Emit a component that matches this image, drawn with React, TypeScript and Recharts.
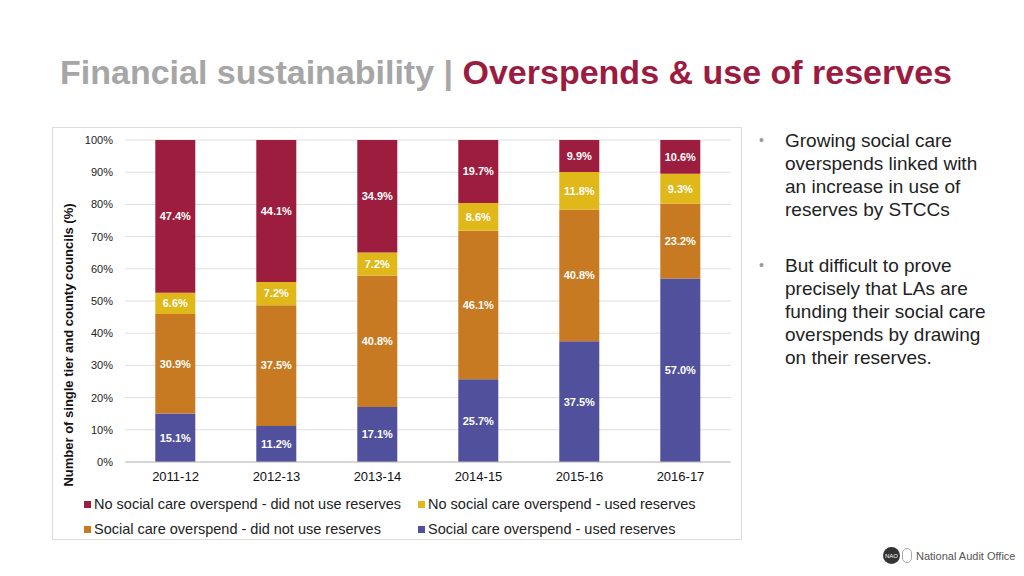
import React from 'react';
import { BarChart, Bar, XAxis, YAxis, CartesianGrid, LabelList } from 'recharts';

const categories = ['2011-12', '2012-13', '2013-14', '2014-15', '2015-16', '2016-17'];
const overspendUsed = [15.1, 11.2, 17.1, 25.7, 37.5, 57.0];
const overspendNotUsed = [30.9, 37.5, 40.8, 46.1, 40.8, 23.2];
const noOverspendUsed = [6.6, 7.2, 7.2, 8.6, 11.8, 9.3];
const noOverspendNotUsed = [47.4, 44.1, 34.9, 19.7, 9.9, 10.6];
const yTicks = [0, 10, 20, 30, 40, 50, 60, 70, 80, 90, 100];

const series = [
  { key: 'overspendUsed', name: 'Social care overspend - used reserves', color: '#50509c' },
  { key: 'overspendNotUsed', name: 'Social care overspend - did not use reserves', color: '#c77a21' },
  { key: 'noOverspendUsed', name: 'No social care overspend - used reserves', color: '#e0b81a' },
  { key: 'noOverspendNotUsed', name: 'No social care overspend - did not use reserves', color: '#9c1d3e' },
];

const legendOrder = [
  ['noOverspendNotUsed', 'noOverspendUsed'],
  ['overspendNotUsed', 'overspendUsed'],
];

const data = categories.map((c, i) => ({
  category: c,
  overspendUsed: overspendUsed[i],
  overspendNotUsed: overspendNotUsed[i],
  noOverspendUsed: noOverspendUsed[i],
  noOverspendNotUsed: noOverspendNotUsed[i],
}));

const FONT = '"Liberation Sans", Arial, Helvetica, sans-serif';

export default function App() {
  return (
    <div style={{ position: 'absolute', left: 0, top: 0, width: 1024, height: 576, background: '#fff', fontFamily: FONT, overflow: 'hidden' }}>
      <div style={{ position: 'absolute', left: 60, top: 51, fontSize: 34, fontWeight: 'bold', whiteSpace: 'nowrap', lineHeight: '42px' }}>
        <span style={{ color: '#a6a6a6' }}>Financial sustainability | </span>
        <span style={{ color: '#9c1c41' }}>Overspends &amp; use of reserves</span>
      </div>
      <div style={{ position: 'absolute', left: 52, top: 127, width: 690, height: 413, border: '1px solid #dcdcdc', boxSizing: 'border-box' }} />
      <div style={{ position: 'absolute', left: 0, top: 0 }}>
        <BarChart width={1024} height={576} data={data} margin={{ top: 140, right: 293, bottom: 84, left: 65 }} barCategoryGap="30%">
          <CartesianGrid vertical={false} stroke="#dedede" />
          <XAxis dataKey="category" height={30} axisLine={{ stroke: '#bfbfbf' }} tickLine={false} tickMargin={4} tick={{ fontSize: 13, fill: '#111', fontFamily: FONT }} />
          <YAxis width={60} domain={[0, 100]} ticks={yTicks} allowDataOverflow axisLine={false} tickLine={false} tickMargin={6} interval={0}
            tickFormatter={(v: number) => `${v}%`} tick={{ fontSize: 11, fill: '#222', fontFamily: FONT }} />
          {series.map((s) => (
            <Bar key={s.key} dataKey={s.key} name={s.name} stackId="a" fill={s.color} isAnimationActive={false}>
              <LabelList dataKey={s.key} position="center" formatter={(v: number) => `${v.toFixed(1)}%`}
                style={{ fill: '#fff', fontSize: 11, fontWeight: 'bold', fontFamily: FONT }} />
            </Bar>
          ))}
        </BarChart>
      </div>
      <svg style={{ position: 'absolute', left: 0, top: 0, pointerEvents: 'none' }} width={1024} height={576}>
        <text x={68} y={345} transform="rotate(-90 68 345)" textAnchor="middle" dominantBaseline="central"
          style={{ fontSize: 13, fontWeight: 'bold', fill: '#111', fontFamily: FONT }}>
          Number of single tier and county councils (%)
        </text>
      </svg>
      {legendOrder.map((row, r) => row.map((k, c) => {
        const s = series.find((x) => x.key === k)!;
        return (
          <div key={k} style={{ position: 'absolute', left: c === 0 ? 84 : 418, top: 495 + r * 25, height: 18, display: 'flex', alignItems: 'center', whiteSpace: 'nowrap', fontSize: 14.5, color: '#222' }}>
            <span style={{ display: 'inline-block', width: 7, height: 7, background: s.color, marginRight: 3 }} />
            {s.name}
          </div>
        );
      }))}
      <div style={{ position: 'absolute', left: 785, top: 129, width: 212, fontSize: 19, lineHeight: '23px', color: '#222' }}>
        <div style={{ position: 'absolute', left: -26, top: 0, color: '#999', fontSize: 14 }}>•</div>
        Growing social care overspends linked with an increase in use of reserves by STCCs
      </div>
      <div style={{ position: 'absolute', left: 785, top: 254, width: 212, fontSize: 19, lineHeight: '23px', color: '#222' }}>
        <div style={{ position: 'absolute', left: -26, top: 0, color: '#999', fontSize: 14 }}>•</div>
        But difficult to prove precisely that LAs are funding their social care overspends by drawing on their reserves.
      </div>
      <div style={{ position: 'absolute', left: 883, top: 547, display: 'flex', alignItems: 'center', fontSize: 11, color: '#555', whiteSpace: 'nowrap' }}>
        <span style={{ display: 'inline-flex', width: 17, height: 17, borderRadius: 9, background: '#333', color: '#fff', fontSize: 6, alignItems: 'center', justifyContent: 'center', marginRight: 2 }}>NAO</span>
        <span style={{ display: 'inline-block', width: 10, height: 15, border: '1px solid #aaa', borderRadius: 5, marginRight: 4, boxSizing: 'border-box' }} />
        National Audit Office
      </div>
    </div>
  );
}
